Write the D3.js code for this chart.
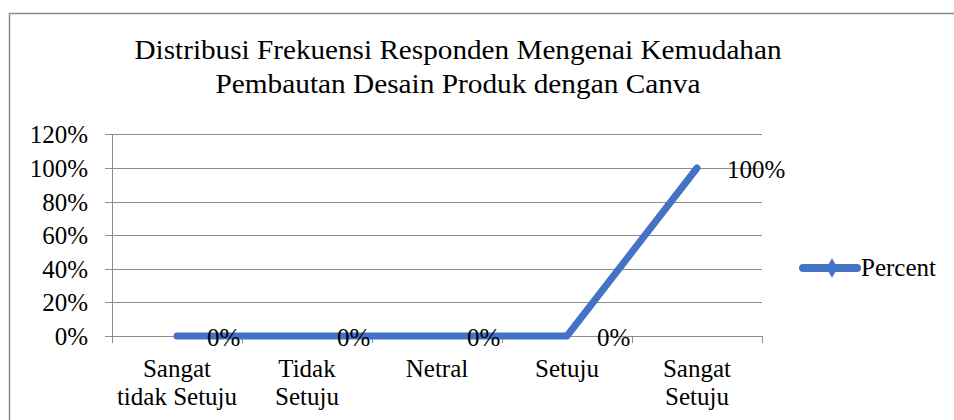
<!DOCTYPE html>
<html>
<head>
<meta charset="utf-8">
<script src="https://cdn.jsdelivr.net/npm/d3@7"></script>
<style>
  body { margin: 0; background: #fff; }
  text { font-family: "Liberation Serif", "Times New Roman", serif; fill: #000; }
</style>
</head>
<body>
<div id="chart"></div>
<script>
// chart data
var categories = ["Sangat tidak Setuju", "Tidak Setuju", "Netral", "Setuju", "Sangat Setuju"];
var catLines = [["Sangat", "tidak Setuju"], ["Tidak", "Setuju"], ["Netral"], ["Setuju"], ["Sangat", "Setuju"]];
var percent = [0, 0, 0, 0, 1];
var yTicks = [0, 0.2, 0.4, 0.6, 0.8, 1.0, 1.2];
var titleLines = ["Distribusi Frekuensi Responden Mengenai Kemudahan", "Pembautan Desain Produk dengan Canva"];
var titleWidths = [647, 485];
var seriesName = "Percent";

var W = 954, H = 420;
var plot = {left: 112, right: 762, top: 134.4, bottom: 336};
var blue = "#4472C4";
var fs = "25px";

var svg = d3.select("#chart")
  .append("svg")
    .attr("width", W)
    .attr("height", H);

// outer frame
svg.append("rect")
  .attr("x", 9.5)
  .attr("y", 13.5)
  .attr("width", W + 20)
  .attr("height", H + 20)
  .style("fill", "none")
  .style("stroke", "#8c8c8c")
  .style("stroke-width", 1.5);

// title
svg.append("g")
  .selectAll("text")
  .data(titleLines)
  .enter()
  .append("text")
    .attr("x", 458)
    .attr("y", function(d, i) { return 59 + i * 34; })
    .attr("text-anchor", "middle")
    .attr("textLength", function(d, i) { return titleWidths[i]; })
    .attr("lengthAdjust", "spacingAndGlyphs")
    .style("font-size", "27px")
    .text(function(d) { return d; });

var x = d3.scaleBand()
  .domain(categories)
  .range([plot.left, plot.right]);

var y = d3.scaleLinear()
  .domain([0, 1.2])
  .range([plot.bottom, plot.top]);

// gridlines
svg.append("g")
  .selectAll("line")
  .data(yTicks)
  .enter()
  .append("line")
    .attr("x1", plot.left - 7)
    .attr("x2", plot.right)
    .attr("y1", function(d) { return Math.round(y(d)) + 0.5; })
    .attr("y2", function(d) { return Math.round(y(d)) + 0.5; })
    .style("stroke", "#8c8c8c")
    .style("stroke-width", 1);

// y axis line
svg.append("line")
  .attr("x1", plot.left + 0.5)
  .attr("x2", plot.left + 0.5)
  .attr("y1", plot.top)
  .attr("y2", plot.bottom + 7)
  .style("stroke", "#8c8c8c");

// y tick labels
svg.append("g")
  .selectAll("text")
  .data(yTicks)
  .enter()
  .append("text")
    .attr("x", 88)
    .attr("y", function(d) { return y(d) + 9; })
    .attr("text-anchor", "end")
    .style("font-size", fs)
    .text(function(d) { return d3.format(".0%")(d); });

// x tick marks at category boundaries
var bounds = categories.map(function(c) { return x(c); }).concat([plot.right]);
svg.append("g")
  .selectAll("line")
  .data(bounds)
  .enter()
  .append("line")
    .attr("x1", function(d) { return Math.round(d) + 0.5; })
    .attr("x2", function(d) { return Math.round(d) + 0.5; })
    .attr("y1", plot.bottom)
    .attr("y2", plot.bottom + 7)
    .style("stroke", "#8c8c8c");

// x labels
var xl = svg.append("g")
  .selectAll("text")
  .data(catLines)
  .enter()
  .append("text")
    .attr("text-anchor", "middle")
    .style("font-size", fs);
xl.selectAll("tspan")
  .data(function(d, i) { return d.map(function(s) { return {s: s, i: i}; }); })
  .enter()
  .append("tspan")
    .attr("x", function(d) { return x(categories[d.i]) + x.bandwidth() / 2; })
    .attr("y", function(d, j) { return 377 + j * 28; })
    .text(function(d) { return d.s; });

// series line
var line = d3.line()
  .x(function(d, i) { return x(categories[i]) + x.bandwidth() / 2; })
  .y(function(d) { return y(d); });

svg.append("path")
  .datum(percent)
  .attr("d", line)
  .style("fill", "none")
  .style("stroke", blue)
  .style("stroke-width", 7)
  .style("stroke-linecap", "round")
  .style("stroke-linejoin", "round");

// data labels
svg.append("g")
  .selectAll("text")
  .data(percent)
  .enter()
  .append("text")
    .attr("x", function(d, i) { return x(categories[i]) + x.bandwidth() / 2 + 30; })
    .attr("y", function(d) { return y(d) + 9.5; })
    .style("font-size", fs)
    .text(function(d) { return d3.format(".0%")(d); });

// legend
var lg = svg.append("g").attr("transform", "translate(803,268)");
lg.append("line")
  .attr("x1", 0)
  .attr("x2", 54)
  .style("stroke", blue)
  .style("stroke-width", 8)
  .style("stroke-linecap", "round");
lg.append("path")
  .attr("d", d3.symbol().type(d3.symbolDiamond).size(110))
  .attr("transform", "translate(29,0)")
  .style("fill", blue);
lg.append("text")
  .attr("x", 58)
  .attr("y", 8)
  .style("font-size", fs)
  .text(seriesName);
</script>
</body>
</html>
